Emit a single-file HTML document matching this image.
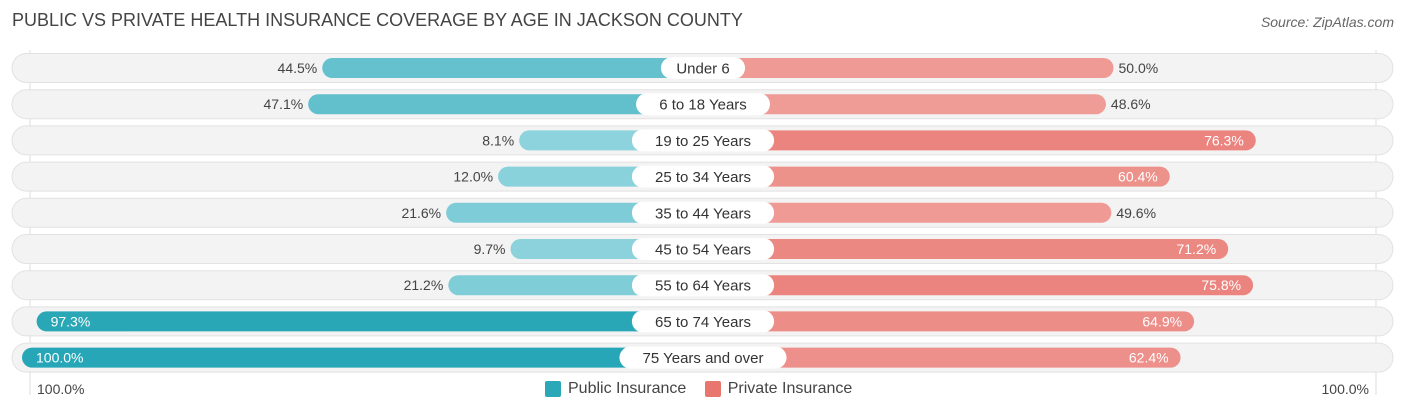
<!DOCTYPE html>
<html><head><meta charset="utf-8"><style>
body{margin:0;width:1406px;height:414px;background:#fff;font-family:"Liberation Sans",sans-serif;position:relative;overflow:hidden}
.t{position:absolute;white-space:nowrap}
</style></head><body>
<div class="t" style="left:12px;top:10px;font-size:18px;color:#444">PUBLIC VS PRIVATE HEALTH INSURANCE COVERAGE BY AGE IN JACKSON COUNTY</div>
<div class="t" style="right:12px;top:14px;font-size:14px;color:#666;font-style:italic">Source: ZipAtlas.com</div>
<svg id="chart" width="1406" height="414" style="position:absolute;left:0;top:0"></svg>
<div class="t" style="left:37px;top:381px;font-size:14px;color:#444">100.0%</div>
<div class="t" style="right:37px;top:381px;font-size:14px;color:#444">100.0%</div>
<div style="position:absolute;left:545px;top:380px;font-size:16px;color:#444">
<span style="display:inline-flex;align-items:center"><span style="width:16px;height:16px;background:#2aa8b8;border-radius:2px;margin-right:7px;display:inline-block"></span>Public Insurance</span>
<span style="display:inline-flex;align-items:center;margin-left:14px"><span style="width:16px;height:16px;background:#e8766f;border-radius:2px;margin-right:7px;display:inline-block"></span>Private Insurance</span>
</div>
<script>
const categories=["Under 6","6 to 18 Years","19 to 25 Years","25 to 34 Years","35 to 44 Years","45 to 54 Years","55 to 64 Years","65 to 74 Years","75 Years and over"];
const publicValues=[44.5,47.1,8.1,12.0,21.6,9.7,21.2,97.3,100.0];
const privateValues=[50.0,48.6,76.3,60.4,49.6,71.2,75.8,64.9,62.4];
const NS="http://www.w3.org/2000/svg";
const svg=document.getElementById('chart');
const cx=703,off=140,scale=5.41,y0=68,step=36.2;
function xL(v){return cx-off-v*scale}
function xR(v){return cx+off+v*scale}
function yC(i){return y0+i*step}
function mix(a,b,t){return 'rgb('+a.map((c,k)=>Math.round(c+(b[k]-c)*t)).join(',')+')'}
function mk(tag,attrs){const e=document.createElementNS(NS,tag);for(const k in attrs)e.setAttribute(k,attrs[k]);svg.appendChild(e);return e}
const gl=mk('line',{x1:30,x2:30,y1:50,y2:395,stroke:'#ddd','stroke-width':1});


const gr=mk('line',{x1:1376,x2:1376,y1:50,y2:395,stroke:'#ddd','stroke-width':1});


categories.forEach((c,i)=>{
  const y=yC(i);
  const bg=mk('rect',{x:12,y:y-14.5,width:1381,height:29,rx:14.5,fill:'#f3f3f3',stroke:'#e2e2e2','stroke-width':1});
  
  
  const pv=publicValues[i],qv=privateValues[i];
  const pb=mk('rect',{x:xL(pv),y:y-10,width:cx-xL(pv),height:20,rx:10,fill:mix([150,215,224],[38,166,182],pv/100)});
  
  
  const qb=mk('rect',{x:cx,y:y-10,width:xR(qv)-cx,height:20,rx:10,fill:mix([245,195,192],[232,112,105],qv/100)});
  
  
  const inP=pv>55;
  const pt=mk('text',{x:inP?xL(pv)+14:xL(pv)-5,y:y+5,'font-size':14,fill:inP?'#fff':'#444','text-anchor':inP?'start':'end','font-family':'Liberation Sans, sans-serif'});
  pt.textContent=pv.toFixed(1)+'%';
  
  
  const inQ=qv>55;
  const qt=mk('text',{x:inQ?xR(qv)-12:xR(qv)+5,y:y+5,'font-size':14,fill:inQ?'#fff':'#444','text-anchor':inQ?'end':'start','font-family':'Liberation Sans, sans-serif'});
  qt.textContent=qv.toFixed(1)+'%';
  
  
  const w=c.length*8.3+26;
  const pill=mk('rect',{x:cx-w/2,y:y-11,width:w,height:22,rx:11,fill:'#fff'});
  
  
  const ct=mk('text',{x:cx,y:y+5.5,'font-size':15,fill:'#333','text-anchor':'middle','font-family':'Liberation Sans, sans-serif'});
  ct.textContent=c;
  
  
});
</script>
</body></html>
